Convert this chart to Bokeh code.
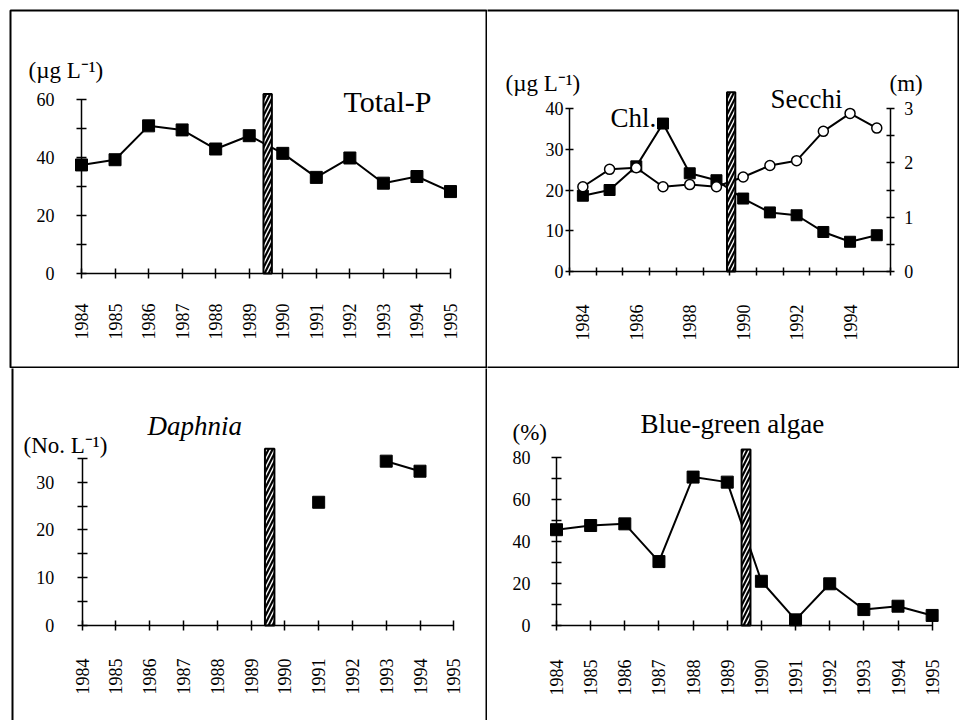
import math
from bokeh.plotting import figure
from bokeh.models import Range1d, LinearAxis, FixedTicker, Label, BoxAnnotation
from bokeh.core.properties import value
from bokeh.layouts import column, row
from bokeh.embed import file_html
from bokeh.resources import INLINE

nan = float("nan")

# ---------------- data ----------------
years = [1984, 1985, 1986, 1987, 1988, 1989, 1990, 1991, 1992, 1993, 1994, 1995]
total_p = [37.5, 39.3, 51.0, 49.6, 43.0, 47.6, 41.5, 33.2, 39.9, 31.2, 33.5, 28.3]
chl = [18.6, 20.0, 25.8, 36.3, 24.1, 22.4, 17.9, 14.5, 13.8, 9.7, 7.3, 8.9]
secchi = [1.56, 1.88, 1.91, 1.56, 1.60, 1.56, 1.74, 1.95, 2.04, 2.58, 2.91, 2.64]
daphnia = [nan, nan, nan, nan, nan, nan, nan, 25.8, nan, 34.4, 32.3, nan]
blue_green = [45.7, 47.7, 48.5, 30.5, 70.8, 68.4, 21.1, 2.7, 19.9, 7.6, 9.2, 4.8]

treatment_year = [1989.55]
bar_top_total_p = [62]
bar_top_chl = [44]
bar_top_daphnia = [37]
bar_top_blue_green = [84]

chl_year_labels = [1984, 1986, 1988, 1990, 1992, 1994]
year_bounds = [1983.5, 1984.5, 1985.5, 1986.5, 1987.5, 1988.5, 1989.5,
               1990.5, 1991.5, 1992.5, 1993.5, 1994.5, 1995.5]

tp_labels, tp_all = [0, 20, 40, 60], [0, 10, 20, 30, 40, 50, 60]
chl_labels = [0, 10, 20, 30, 40]
sec_labels, sec_all = [0, 1, 2, 3], [0, 0.5, 1, 1.5, 2, 2.5, 3]
dap_labels, dap_all = [0, 10, 20, 30], [0, 5, 10, 15, 20, 25, 30, 35]
bg_labels, bg_all = [0, 20, 40, 60, 80], [0, 10, 20, 30, 40, 50, 60, 70, 80]

FONT = "Liberation Serif"
TICK_SIZE = "18px"
UNIT_SIZE = "23px"
TITLE_SIZE = "27px"


class Panel:
    """A figure whose plot frame covers the whole panel; axes are drawn inside it."""

    def __init__(self, w, h, fb, x0, ax, ppx, ppy):
        self.w, self.h, self.fb = w, h, fb
        self.x0, self.ax, self.ppx, self.ppy = x0, ax, ppx, ppy
        x_start = x0 - ax / ppx
        x_end = x0 + (w - ax) / ppx
        p = figure(width=w, height=h, min_border=0, min_border_left=0, min_border_right=0,
                   min_border_top=0, min_border_bottom=0,
                   x_range=Range1d(x_start, x_end),
                   y_range=Range1d(-(h - fb) / ppy, fb / ppy),
                   x_axis_type=None, y_axis_type=None, toolbar_location=None,
                   output_backend="svg", title=None)
        p.outline_line_color = None
        p.background_fill_color = "white"
        p.border_fill_color = "white"
        self.p = p

    def dx(self, cx):
        return self.x0 + (cx - self.ax) / self.ppx

    def dy(self, cy):
        return (self.fb - cy) / self.ppy

    def label(self, cx, cy, text, size, style="normal"):
        self.p.add_layout(Label(x=self.dx(cx), y=self.dy(cy), text=text, text_font=FONT,
                                text_font_size=size, text_font_style=style,
                                text_align="left", text_baseline="middle",
                                text_color="black"))

    def border(self, left, right, top, bottom):
        self.p.add_layout(BoxAnnotation(left=left, right=right, top=top, bottom=bottom,
                                        left_units="canvas", right_units="canvas",
                                        top_units="canvas", bottom_units="canvas",
                                        fill_color=None, fill_alpha=0,
                                        line_color="black", line_alpha=1.0,
                                        line_width=2, level="overlay"))


def style_ticks_only(ax, tick):
    ax.axis_line_color = "black"
    ax.axis_line_width = 1.5
    ax.major_tick_line_color = None
    ax.major_tick_in = 0
    ax.major_tick_out = 0
    ax.minor_tick_line_color = "black"
    ax.minor_tick_line_width = 1.5
    ax.minor_tick_in = tick
    ax.minor_tick_out = tick
    ax.major_label_text_font_size = "0px"
    ax.major_label_standoff = 0


def x_axis(p, ticks, bounds, tick=5):
    ax = LinearAxis(ticker=FixedTicker(ticks=[], minor_ticks=ticks), bounds=bounds,
                    fixed_location=0)
    style_ticks_only(ax, tick)
    p.add_layout(ax, "below")


def x_labels(p, labels, offset):
    p.text(x=labels, y=[0] * len(labels), text=[str(v) for v in labels],
           angle=math.pi / 2, y_offset=offset, text_align="right", text_baseline="middle",
           text_font=value(FONT), text_font_size=value(TICK_SIZE), text_color="black")


def y_axis(p, at, all_ticks, bounds, tick=5, range_name="default"):
    ax = LinearAxis(ticker=FixedTicker(ticks=[], minor_ticks=all_ticks), bounds=bounds,
                    fixed_location=at, y_range_name=range_name)
    style_ticks_only(ax, tick)
    p.add_layout(ax, "right")


def y_labels(p, at, labels, offset, align, range_name="default"):
    p.text(x=[at] * len(labels), y=labels, text=[str(v) for v in labels],
           x_offset=offset, text_align=align, text_baseline="middle",
           text_font=value(FONT), text_font_size=value(TICK_SIZE), text_color="black",
           y_range_name=range_name)


def bar(p, top, width):
    p.vbar(x=treatment_year, top=top, bottom=0, width=width, fill_color="black",
           line_color="black", line_width=2, hatch_pattern="/", hatch_color="white",
           hatch_weight=1.4, hatch_scale=8)


def square_series(p, ys, size=12):
    p.scatter(years, ys, marker="square", size=size, fill_color="black",
              line_color="black", line_width=1)


# ---------------- panel 1 : Total-P ----------------
P1 = Panel(487, 368, 273, 1984, 81, 33.545, 2.895)
p1 = P1.p
x_axis(p1, years, (1984, 1995))
x_labels(p1, years, 30)
y_axis(p1, 1984, tp_all, (0, 60))
y_labels(p1, 1984, tp_labels, -27, "right")
p1.line(years, total_p, line_width=2, color="black")
bar(p1, bar_top_total_p, 0.25)
square_series(p1, total_p)
P1.label(28, 70, "(µg L⁻¹)", UNIT_SIZE)
P1.label(343, 101, "Total-P", "30px")
P1.border(10, 486, 10, 367)

# ---------------- panel 2 : Chl / Secchi ----------------
P2 = Panel(472, 368, 271, 1983.5, 82, 26.72, 4.075)
p2 = P2.p
p2.extra_y_ranges = {"secchi": Range1d(-(368 - 271) / 4.075 * 3 / 40, 271 / 4.075 * 3 / 40)}
x_axis(p2, year_bounds, (1983.5, 1995.5), tick=4)
x_labels(p2, chl_year_labels, 33)
y_axis(p2, 1983.5, chl_labels, (0, 40), tick=4)
y_axis(p2, 1995.5, sec_all, (0, 3), tick=4, range_name="secchi")
y_labels(p2, 1983.5, chl_labels, -6, "right")
y_labels(p2, 1995.5, sec_labels, 14, "left", range_name="secchi")
p2.line(years, chl, line_width=2, color="black")
p2.line(years, secchi, line_width=2, color="black", y_range_name="secchi")
bar(p2, bar_top_chl, 0.31)
square_series(p2, chl, size=11)
p2.scatter(years, secchi, marker="circle", size=10, fill_color="white", line_color="black",
           line_width=1.5, y_range_name="secchi")
P2.label(18, 83, "(µg L⁻¹)", UNIT_SIZE)
P2.label(402, 83, "(m)", UNIT_SIZE)
P2.label(123, 117, "Chl.", TITLE_SIZE)
P2.label(283, 98, "Secchi", TITLE_SIZE)
P2.border(-20, 471, 10, 367)

# ---------------- panel 3 : Daphnia ----------------
P3 = Panel(487, 352, 257, 1984, 81.7, 33.78, 4.777)
p3 = P3.p
x_axis(p3, years, (1984, 1995))
x_labels(p3, years, 33)
y_axis(p3, 1984, dap_all, (0, 35))
y_labels(p3, 1984, dap_labels, -28, "right")
p3.line(years, daphnia, line_width=2, color="black")
bar(p3, bar_top_daphnia, 0.28)
square_series(p3, daphnia)
P3.label(23, 77, "(No. L⁻¹)", UNIT_SIZE)
P3.label(147, 57, "Daphnia", TITLE_SIZE, style="italic")
P3.border(12, 486, -20, 2000)

# ---------------- panel 4 : Blue-green algae ----------------
P4 = Panel(472, 352, 257, 1984, 69, 34.15, 2.096)
p4 = P4.p
x_axis(p4, years, (1984, 1995))
x_labels(p4, years, 34)
y_axis(p4, 1984, bg_all, (0, 80))
y_labels(p4, 1984, bg_labels, -26, "right")
p4.line(years, blue_green, line_width=2, color="black")
bar(p4, bar_top_blue_green, 0.26)
square_series(p4, blue_green)
P4.label(25, 64, "(%)", UNIT_SIZE)
P4.label(153, 55, "Blue-green algae", TITLE_SIZE)

layout = column(row(p1, p2), row(p3, p4))

open("out.html", "w").write(file_html(layout, INLINE))
